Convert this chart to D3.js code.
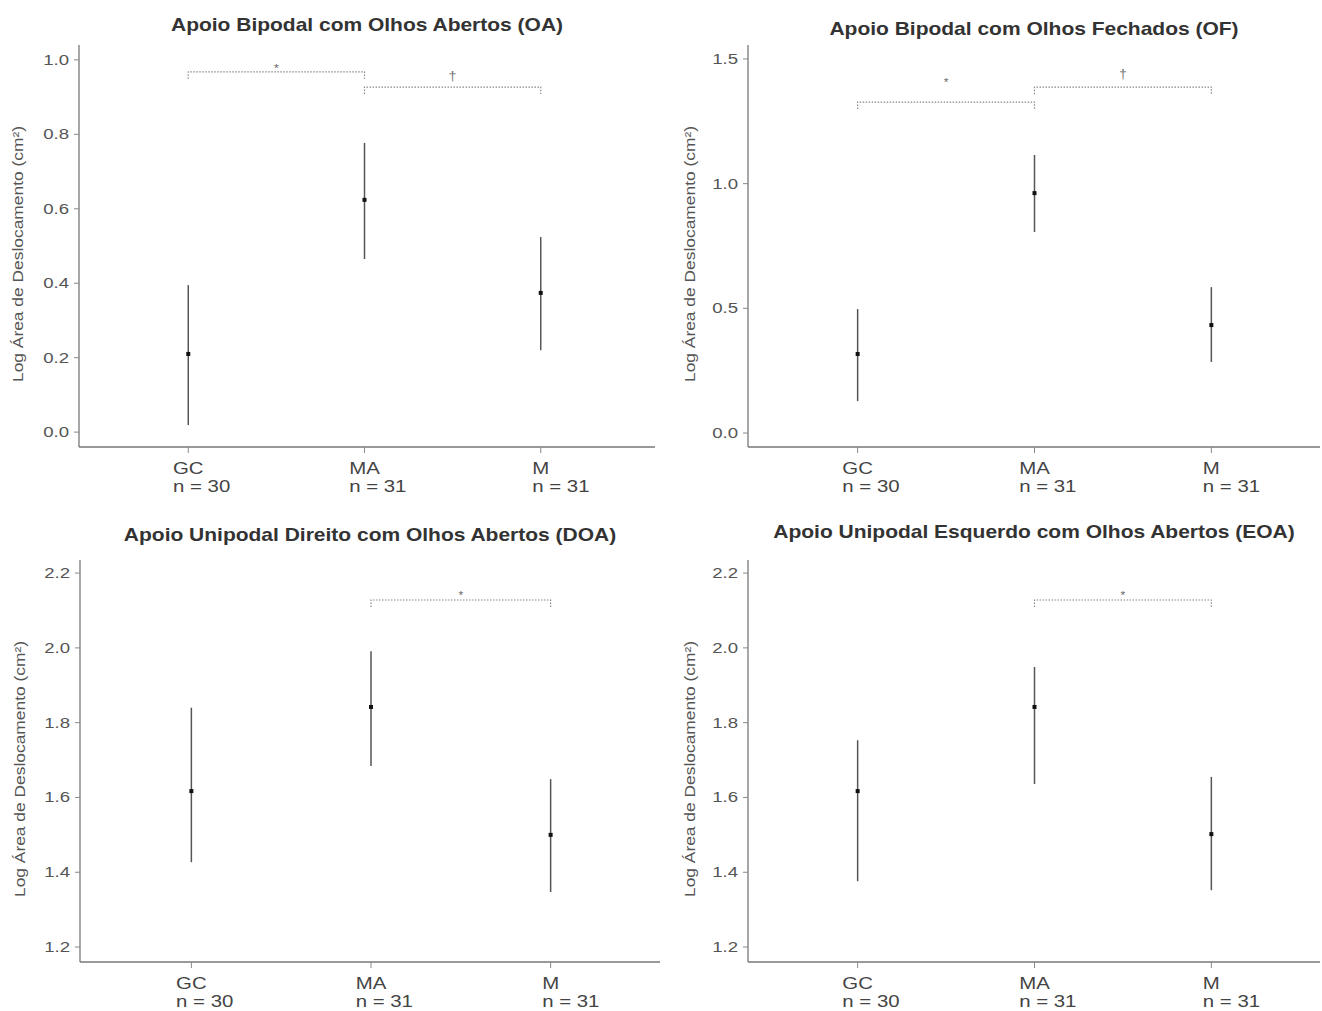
<!DOCTYPE html>
<html>
<head>
<meta charset="utf-8">
<script src="https://cdn.jsdelivr.net/npm/d3@7"></script>
<style>
	body { margin: 0; background: #fff; }
	svg { display: block; font-family: "Liberation Sans", Arial, sans-serif; }
</style>
</head>
<body>
<svg id="chart" width="1322" height="1011"></svg>
<script>
// groups on the x axis
var groups = ["GC", "MA", "M"];
var groupN = ["n = 30", "n = 31", "n = 31"];

var panelTitles = [
	"Apoio Bipodal com Olhos Abertos (OA)",
	"Apoio Bipodal com Olhos Fechados (OF)",
	"Apoio Unipodal Direito com Olhos Abertos (DOA)",
	"Apoio Unipodal Esquerdo com Olhos Abertos (EOA)"
];
var yLabel = "Log Área de Deslocamento (cm²)";

var ticksOA = [0.0, 0.2, 0.4, 0.6, 0.8, 1.0];
var ticksOF = [0.0, 0.5, 1.0, 1.5];
var ticksUni = [1.2, 1.4, 1.6, 1.8, 2.0, 2.2];

// mean and interval per group
var meanOA = [0.210, 0.624, 0.374];
var lowOA  = [0.019, 0.465, 0.220];
var highOA = [0.395, 0.777, 0.524];

var meanOF = [0.317, 0.962, 0.433];
var lowOF  = [0.128, 0.806, 0.285];
var highOF = [0.497, 1.115, 0.585];

var meanDOA = [1.617, 1.842, 1.500];
var lowDOA  = [1.427, 1.684, 1.347];
var highDOA = [1.840, 1.991, 1.649];

var meanEOA = [1.617, 1.842, 1.502];
var lowEOA  = [1.376, 1.636, 1.352];
var highEOA = [1.753, 1.949, 1.655];

// significance brackets: level of the line, level of the mark
var bracketsOA = [
	{from: "GC", to: "MA", level: 0.968, markAt: 0.984, mark: "*"},
	{from: "MA", to: "M", level: 0.927, markAt: 0.962, mark: "†"}
];
var bracketsOF = [
	{from: "GC", to: "MA", level: 1.327, markAt: 1.415, mark: "*"},
	{from: "MA", to: "M", level: 1.387, markAt: 1.447, mark: "†"}
];
var bracketsDOA = [
	{from: "MA", to: "M", level: 2.128, markAt: 2.147, mark: "*"}
];
var bracketsEOA = [
	{from: "MA", to: "M", level: 2.128, markAt: 2.147, mark: "*"}
];

var SX = 1.2; // text in the original is stretched sideways

var layout = [
	{x0: 79,  x1: 655,  xr: 650,  y0: 45,  y1: 447, dom: [-0.04, 1.04],  titleY: 31,  labelX: 18},
	{x0: 748, x1: 1320, xr: 1321, y0: 45,  y1: 447, dom: [-0.056, 1.556], titleY: 35,  labelX: 690},
	{x0: 80,  x1: 660,  xr: 662,  y0: 560, y1: 962, dom: [1.16, 2.235],   titleY: 541, labelX: 20},
	{x0: 748, x1: 1320, xr: 1321, y0: 560, y1: 962, dom: [1.16, 2.235],   titleY: 538, labelX: 690}
];

var panels = [
	{ticks: ticksOA,  mean: meanOA,  low: lowOA,  high: highOA,  br: bracketsOA},
	{ticks: ticksOF,  mean: meanOF,  low: lowOF,  high: highOF,  br: bracketsOF},
	{ticks: ticksUni, mean: meanDOA, low: lowDOA, high: highDOA, br: bracketsDOA},
	{ticks: ticksUni, mean: meanEOA, low: lowEOA, high: highEOA, br: bracketsEOA}
];

var svg = d3.select("#chart");

function stext(parent, x, y, txt, anchor, size, color, weight, rot) {
	var g = parent.append("g")
		.attr("transform", "translate(" + x + "," + y + ")" + (rot ? " rotate(" + rot + ")" : "") + " scale(" + SX + ",1)");
	return g.append("text")
		.attr("text-anchor", anchor)
		.attr("font-size", size)
		.attr("font-weight", weight || "normal")
		.attr("fill", color)
		.text(txt);
}

panels.forEach(function(p, i) {
	var L = layout[i];
	var g = svg.append("g");

	var x = d3.scalePoint().domain(groups).range([L.x0, L.xr]).padding(0.62);
	var y = d3.scaleLinear().domain(L.dom).range([L.y1, L.y0]);

	// axes lines
	g.append("line").attr("x1", L.x0).attr("x2", L.x0).attr("y1", L.y0).attr("y2", L.y1)
		.attr("stroke", "#777").attr("stroke-width", 1.3);
	g.append("line").attr("x1", L.x0).attr("x2", L.x1).attr("y1", L.y1).attr("y2", L.y1)
		.attr("stroke", "#777").attr("stroke-width", 1.3);

	// y ticks
	var f = d3.format(".1f");
	p.ticks.forEach(function(t) {
		g.append("line").attr("x1", L.x0 - 5).attr("x2", L.x0).attr("y1", y(t)).attr("y2", y(t))
			.attr("stroke", "#888").attr("stroke-width", 1);
		stext(g, L.x0 - 10, y(t) + 5, f(t), "end", 15.5, "#555");
	});

	// x ticks and two-line labels
	groups.forEach(function(c, k) {
		g.append("line").attr("x1", x(c)).attr("x2", x(c)).attr("y1", L.y1).attr("y2", L.y1 + 6)
			.attr("stroke", "#888").attr("stroke-width", 1);
		var t1 = stext(g, x(c), L.y1 + 27, c, "middle", 17, "#444");
		var w = t1.node().getComputedTextLength() * SX;
		stext(g, x(c) - w / 2, L.y1 + 45, groupN[k], "start", 17, "#444");
	});

	// title and y label
	stext(g, (L.x0 + L.x1) / 2, L.titleY, panelTitles[i], "middle", 17.5, "#333", "bold");
	stext(g, L.labelX, (L.y0 + L.y1) / 2 + 8, yLabel, "middle", 14.5, "#555", "normal", -90)
		.attr("dy", "0.35em");

	// error bars
	g.selectAll(".bar").data(groups).enter().append("line")
		.attr("x1", function(c) { return x(c); })
		.attr("x2", function(c) { return x(c); })
		.attr("y1", function(c, k) { return y(p.low[k]); })
		.attr("y2", function(c, k) { return y(p.high[k]); })
		.attr("stroke", "#555").attr("stroke-width", 1.5);

	g.selectAll(".mean").data(groups).enter().append("rect")
		.attr("x", function(c) { return x(c) - 2; })
		.attr("y", function(c, k) { return y(p.mean[k]) - 2; })
		.attr("width", 4).attr("height", 4)
		.attr("fill", "#111");

	// brackets
	p.br.forEach(function(b) {
		var xa = x(b.from), xb = x(b.to), yy = y(b.level);
		g.append("path")
			.attr("d", "M" + xa + "," + (yy + 7) + "V" + yy + "H" + xb + "V" + (yy + 7))
			.attr("fill", "none").attr("stroke", "#888").attr("stroke-width", 1.2)
			.attr("stroke-dasharray", "1.5,1.5");
		if (b.mark == "*") {
			stext(g, (xa + xb) / 2, y(b.markAt) + 6, b.mark, "middle", 10, "#666");
		} else {
			stext(g, (xa + xb) / 2, y(b.markAt) + 6, b.mark, "middle", 12, "#777");
		}
	});
});
</script>
</body>
</html>
